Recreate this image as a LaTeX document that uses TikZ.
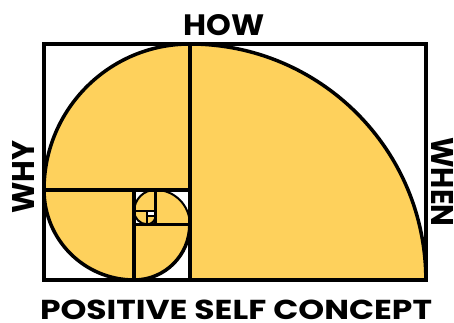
\documentclass[tikz,border=0pt]{standalone}
\usepackage{graphicx}
\usepackage{fontspec}
\setmainfont{Poppins}
\usetikzlibrary{backgrounds}
\definecolor{spiralgold}{RGB}{254,209,92}
\newcommand{\fitword}[3]{\resizebox{#1pt}{#2pt}{#3}}
\tikzset{
  frame/.style={line width=3.5pt, line join=miter},
  thinframe/.style={line width=2pt},
  word/.style={font=\bfseries\fontsize{30}{30}\selectfont, inner sep=0pt, anchor=base},
}

\begin{document}
\begin{tikzpicture}[x=1pt,y=1pt]
    \useasboundingbox (0,0) rectangle (454,323);
    % corners of the golden rectangle
    \coordinate (sw) at (44,43);
    \coordinate (ne) at (425.856,279);
    % centres of the quarter circles
    \coordinate (c0) at (189.856,43);
    \coordinate (c1) at (189.856,133.144);
    \coordinate (c2) at (134.144,133.144);
    \coordinate (c3) at (134.144,98.712);
    \coordinate (c4) at (155.424,98.712);
    \coordinate (c5) at (155.424,111.864);
    \coordinate (c6) at (147.296,111.864);
    \coordinate (c7) at (147.296,106.84);
    \begin{scope}[on background layer]
    \fill[white] (sw) rectangle (ne);
    \foreach \c/\a/\r in {c0/0/236, c1/90/145.856, c2/180/90.144, c3/270/55.712,
                          c4/0/34.432, c5/90/21.28, c6/180/13.152, c7/270/8.128}
        \fill[spiralgold] (\c) -- ++(\a:\r pt) arc[start angle=\a, delta angle=90, radius=\r pt] -- cycle;
    \end{scope}
    % squares
    \draw[frame] (sw) rectangle (ne);
    \draw[frame] (c0) -- (c0 |- ne);
    \draw[frame] (sw |- c1) -- (c1);
    \draw[frame] (c2) -- (c2 |- sw);
    \draw[frame] (c3) -- (c3 -| c0);
    \draw[frame] (c4) -- (c4 |- c1);
    \draw[thinframe] (c2 |- c5) -- (c5);
    \draw[thinframe] (c6) -- (c6 |- c4);
    \draw[thinframe] (c7) -- (c7 -| c5);
    % spiral
    \draw[frame] (ne |- sw) arc[start angle=0, delta angle=90, radius=236pt]
        arc[start angle=90, delta angle=90, radius=145.856pt]
        arc[start angle=180, delta angle=90, radius=90.144pt]
        arc[start angle=270, delta angle=90, radius=55.712pt];
    \draw[thinframe] (c4 -| c0) arc[start angle=0, delta angle=90, radius=34.432pt]
        arc[start angle=90, delta angle=90, radius=21.28pt]
        arc[start angle=180, delta angle=90, radius=13.152pt]
        arc[start angle=270, delta angle=90, radius=8.128pt];
    % labels
    \node[word] (how) at (224,287) {\fitword{81}{21}{HOW}};
    \node[word, rotate=90] (why) at (35,146) {\fitword{73}{22}{WHY}};
    \node[word, rotate=-90] (when) at (431,141) {\fitword{89}{22}{WHEN}};
    \node[word] (concept) at (236,4) {\fitword{392}{19.5}{POSITIVE SELF CONCEPT}};
\end{tikzpicture}
\end{document}
